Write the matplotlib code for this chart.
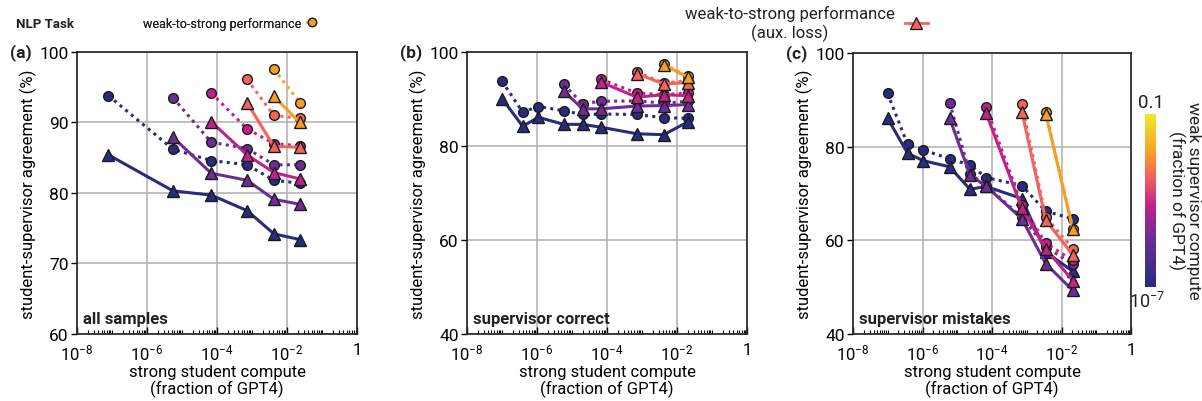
import matplotlib
matplotlib.use("Agg")
import matplotlib.pyplot as plt
import matplotlib.ticker as mticker
import numpy as np
from matplotlib.colors import LinearSegmentedColormap, LogNorm
from matplotlib.legend_handler import HandlerLine2D
from matplotlib.lines import Line2D

plt.rcParams["font.family"] = ["Roboto", "DejaVu Sans"]
plt.rcParams["mathtext.fontset"] = "custom"
plt.rcParams["mathtext.rm"] = "Roboto"
plt.rcParams["mathtext.it"] = "Roboto:italic"
plt.rcParams["mathtext.bf"] = "Roboto:bold"
plt.rcParams["text.color"] = "#222222"

# weak supervisor compute (fraction of GPT4), one per series
SUPERVISOR = [1e-7, 5.6e-6, 6.7e-5, 7.1e-4, 4.2e-3]

# strong student compute (fraction of GPT4) per panel
A_X = [7.9e-8, 5.5e-6, 6.8e-5, 7.2e-4, 4.2e-3, 2.3e-2]
B_X = [1.0e-7, 3.9e-7, 1.1e-6, 5.8e-6, 2.0e-5, 6.6e-5, 7.1e-4, 4.2e-3, 2.0e-2]
C_X = [9.8e-8, 3.7e-7, 1.05e-6, 6.0e-6, 2.3e-5, 6.8e-5, 7.2e-4, 3.5e-3, 2.1e-2]

# index of the first student for each supervisor
A_START = [0, 1, 2, 3, 4]
BC_START = [0, 3, 5, 6, 7]

# (a) all samples
A_W2S = [
    [93.8, 86.2, 84.6, 84.0, 81.8, 81.4],
    [93.5, 87.2, 86.3, 84.0, 84.0],
    [94.2, 89.1, 87.0, 86.7],
    [96.1, 91.0, 90.6],
    [97.6, 92.8],
]
A_AUX = [
    [85.4, 80.3, 79.7, 77.5, 74.2, 73.4],
    [87.9, 82.8, 81.8, 79.1, 78.4],
    [90.1, 85.4, 82.9, 82.0],
    [92.8, 86.6, 86.5],
    [93.7, 90.0],
]

# (b) supervisor correct
B_W2S = [
    [93.8, 87.2, 88.4, 87.5, 86.7, 86.8, 86.7, 86.0, 85.9],
    [93.1, 89.0, 89.5, 89.6, 89.1, 89.5],
    [94.2, 91.3, 90.9, 91.3],
    [95.7, 93.4, 93.9],
    [97.4, 94.9],
]
B_AUX = [
    [90.1, 84.2, 86.1, 84.6, 84.6, 84.0, 82.6, 82.4, 85.1],
    [91.7, 87.9, 87.9, 88.5, 88.6, 88.8],
    [93.6, 90.4, 90.9, 90.7],
    [95.4, 93.2, 93.5],
    [97.2, 94.7],
]

# (c) supervisor mistakes
C_W2S = [
    [91.4, 80.5, 79.3, 77.4, 76.1, 73.4, 71.7, 66.2, 64.6],
    [89.4, 74.2, 71.7, 64.9, 58.6, 54.9],
    [88.4, 67.5, 59.4, 55.7],
    [89.1, 65.0, 58.2],
    [87.4, 62.5],
]
C_AUX = [
    [86.1, 78.6, 77.0, 75.7, 70.9, 71.5, 68.9, 57.5, 53.4],
    [86.1, 74.0, 71.5, 64.6, 55.0, 49.3],
    [87.1, 66.8, 58.2, 51.4],
    [87.5, 64.3, 56.9],
    [87.0, 62.4],
]

CMAP = LinearSegmentedColormap.from_list(
    "w2s",
    [(0.0, "#2a2b7e"), (0.29, "#6c2e95"), (0.47, "#c2218b"),
     (0.64, "#f1635d"), (0.78, "#f7a11f"), (1.0, "#eee82a")],
)
NORM = LogNorm(1e-7, 0.1)
DOT = (0, (1.0, 1.4))


class EndMarker(HandlerLine2D):
    # marker at the right end of the legend line, as in the paper figure
    def get_xdata(self, legend, xdescent, ydescent, width, height, fontsize):
        xdata = np.array([-xdescent, -xdescent + width])
        return xdata, xdata[-1:]


def decade_label(v, _):
    if np.isclose(v, 1):
        return "1"
    return f"$10^{{{int(round(np.log10(v)))}}}$"


def panel(ax, xs, starts, w2s, aux, ylim, ystep, tag, note):
    for sup, st, yc, yt in zip(SUPERVISOR, starts, w2s, aux):
        c = CMAP(NORM(sup))
        x = xs[st:st + len(yc)]
        ax.plot(x, yc, linestyle=DOT, lw=2.2, color=c, marker="o", ms=7,
                mfc=c, mec="#1a1a1a", mew=1.0, zorder=3)
        ax.plot(x, yt, linestyle="-", lw=2.2, color=c, marker="^", ms=8.5,
                mfc=c, mec="#1a1a1a", mew=1.0, zorder=3)

    ax.set_xscale("log")
    ax.set_xlim(1e-8, 1)
    ax.set_ylim(*ylim)
    ax.xaxis.set_major_locator(mticker.FixedLocator([1e-8, 1e-6, 1e-4, 1e-2, 1]))
    ax.xaxis.set_minor_locator(mticker.LogLocator(base=10, subs=np.arange(1, 10), numticks=30))
    ax.xaxis.set_major_formatter(mticker.FuncFormatter(decade_label))
    ax.xaxis.set_minor_formatter(mticker.NullFormatter())
    ax.set_yticks(np.arange(ylim[0], ylim[1] + 1, ystep))
    ax.grid(True, which="major", color="#b5b5b5", lw=1.2)
    ax.set_axisbelow(True)
    ax.tick_params(axis="x", which="major", direction="in", length=5, width=1, labelsize=12, pad=6)
    ax.tick_params(axis="x", which="minor", direction="in", length=3, width=0.8)
    ax.tick_params(axis="y", direction="out", length=4, width=1, labelsize=12.5, pad=2)
    for s in ax.spines.values():
        s.set_linewidth(1.2)
        s.set_color("#222222")
    ax.set_ylabel("student-supervisor agreement (%)", fontsize=12, labelpad=2)
    ax.set_xlabel("strong student compute\n(fraction of GPT4)", fontsize=12, labelpad=1, linespacing=1.1)
    ax.text(-0.24, 1.0, tag, transform=ax.transAxes, ha="left", va="center",
            fontsize=12.5, fontweight="bold")
    ax.text(0.02, 0.03, note, transform=ax.transAxes, ha="left", va="bottom",
            fontsize=12, fontweight="bold")


fig = plt.figure(figsize=(12.02, 4.02), dpi=100)
ax_a = fig.add_axes([0.0641, 0.1667, 0.2330, 0.7015])
ax_b = fig.add_axes([0.3885, 0.1667, 0.2330, 0.7015])
ax_c = fig.add_axes([0.7097, 0.1667, 0.2313, 0.6990])

panel(ax_a, A_X, A_START, A_W2S, A_AUX, (60, 100), 10, "(a)", "all samples")
panel(ax_b, B_X, BC_START, B_W2S, B_AUX, (40, 100), 20, "(b)", "supervisor correct")
panel(ax_c, C_X, BC_START, C_W2S, C_AUX, (40, 100), 20, "(c)", "supervisor mistakes")

# colorbar
cax = fig.add_axes([0.9526, 0.2836, 0.0092, 0.430])
sm = plt.cm.ScalarMappable(norm=NORM, cmap=CMAP)
cb = fig.colorbar(sm, cax=cax)
cb.outline.set_visible(False)
cax.set_yticks([])
cax.minorticks_off()
cax.text(0.5, 1.02, "0.1", transform=cax.transAxes, ha="center", va="bottom", fontsize=13.5)
cax.text(0.2, -0.02, "$10^{-7}$", transform=cax.transAxes, ha="center", va="top", fontsize=13)
fig.text(0.9855, 0.50, "weak supervisor compute\n(fraction of GPT4)", rotation=270,
         ha="center", va="center", fontsize=12.5, linespacing=1.0, multialignment="center")

fig.text(0.0375, 0.938, "NLP Task", ha="center", va="center", fontsize=9.5, fontweight="bold")

orange = CMAP(NORM(SUPERVISOR[4]))
coral = CMAP(NORM(SUPERVISOR[3]))
h1 = Line2D([], [], linestyle=DOT, lw=2.0, color=orange, marker="o", ms=6,
            mfc=orange, mec="#1a1a1a", mew=0.9)
h2 = Line2D([], [], linestyle="-", lw=2.0, color=coral, marker="^", ms=8,
            mfc=coral, mec="#1a1a1a", mew=0.9)
leg1 = fig.legend([h1], ["weak-to-strong performance"], loc="center right",
                  bbox_to_anchor=(0.265, 0.940), markerfirst=False, frameon=False,
                  handlelength=1.0, handletextpad=0.4, borderpad=0, borderaxespad=0,
                  fontsize=9, handler_map={Line2D: EndMarker()})
leg2 = fig.legend([h2], ["weak-to-strong performance\n(aux. loss)"], loc="center right",
                  bbox_to_anchor=(0.772, 0.940), markerfirst=False, frameon=False,
                  handlelength=1.4, handletextpad=0.6, borderpad=0, borderaxespad=0,
                  fontsize=12, handler_map={Line2D: EndMarker()})
for t in leg2.get_texts():
    t.set_multialignment("center")
    t.set_linespacing(1.25)
fig.add_artist(leg1)

fig.savefig("out.png", dpi=100)
